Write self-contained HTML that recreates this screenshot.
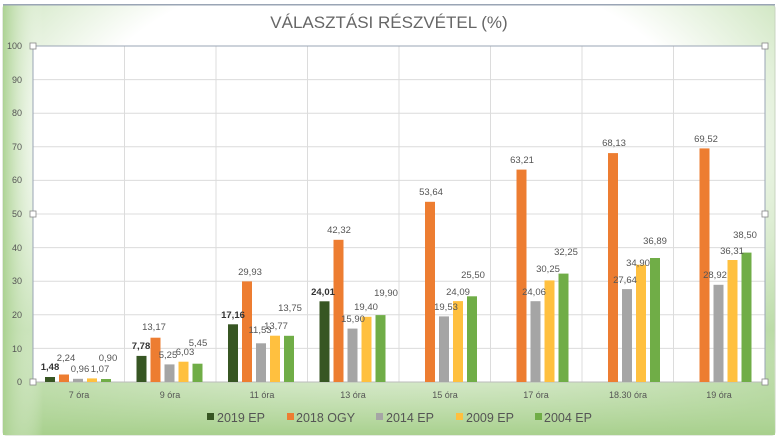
<!DOCTYPE html>
<html><head><meta charset="utf-8"><style>
html,body{margin:0;padding:0;background:#fff;}
svg{display:block;font-family:"Liberation Sans",sans-serif;}
</style></head><body>
<svg width="779" height="439" viewBox="0 0 779 439">
<defs>
<radialGradient id="bg" cx="0.5" cy="0.3" r="0.8">
<stop offset="0.5" stop-color="#ffffff"/>
<stop offset="1" stop-color="#9ccb7f"/>
</radialGradient>
<linearGradient id="bot" x1="0" y1="0" x2="0" y2="1">
<stop offset="0" stop-color="#ffffff" stop-opacity="0"/>
<stop offset="1" stop-color="#a8d08d" stop-opacity="0.95"/>
</linearGradient>
<linearGradient id="left" x1="0" y1="0" x2="1" y2="0">
<stop offset="0" stop-color="#a8d08d" stop-opacity="0.9"/>
<stop offset="1" stop-color="#ffffff" stop-opacity="0"/>
</linearGradient>
</defs>
<rect x="0" y="0" width="779" height="439" fill="#fff"/>
<rect x="3" y="5" width="772" height="430" rx="3" fill="url(#bg)" stroke="#c8d4c0"/>
<rect x="3" y="330" width="772" height="105" fill="url(#bot)"/>
<rect x="3" y="5" width="40" height="430" fill="url(#left)"/>
<rect x="3" y="4" width="772" height="1.5" fill="#9aa5b5"/>
<text x="389" y="28" font-size="17" fill="#666" text-anchor="middle">VÁLASZTÁSI RÉSZVÉTEL (%)</text>
<rect x="33" y="46" width="732" height="336" fill="#fff"/>
<g stroke="#dcdcdc" stroke-width="1">
<line x1="33" x2="765" y1="79.6" y2="79.6"/><line x1="33" x2="765" y1="113.2" y2="113.2"/>
<line x1="33" x2="765" y1="146.8" y2="146.8"/><line x1="33" x2="765" y1="180.4" y2="180.4"/>
<line x1="33" x2="765" y1="214" y2="214"/><line x1="33" x2="765" y1="247.6" y2="247.6"/>
<line x1="33" x2="765" y1="281.2" y2="281.2"/><line x1="33" x2="765" y1="314.8" y2="314.8"/>
<line x1="33" x2="765" y1="348.4" y2="348.4"/>
<line x1="124.5" x2="124.5" y1="46" y2="382"/><line x1="216" x2="216" y1="46" y2="382"/>
<line x1="307.5" x2="307.5" y1="46" y2="382"/><line x1="399" x2="399" y1="46" y2="382"/>
<line x1="490.5" x2="490.5" y1="46" y2="382"/><line x1="582" x2="582" y1="46" y2="382"/>
<line x1="673.5" x2="673.5" y1="46" y2="382"/>
</g>
<rect x="33" y="46" width="732" height="336" fill="none" stroke="#9aa5b5" stroke-width="1"/>
<line x1="33" x2="765" y1="382" y2="382" stroke="#bbb"/>
<g fill="#fff" stroke="#888" stroke-width="0.8">
<rect x="30" y="43" width="6" height="6"/><rect x="762" y="43" width="6" height="6"/>
<rect x="30" y="211" width="6" height="6"/><rect x="762" y="211" width="6" height="6"/>
<rect x="30" y="379" width="6" height="6"/><rect x="762" y="379" width="6" height="6"/>
</g>
<g font-size="9" fill="#555" text-anchor="end">
<text x="22" y="49">100</text><text x="22" y="83">90</text><text x="22" y="116">80</text>
<text x="22" y="150">70</text><text x="22" y="183">60</text><text x="22" y="217">50</text>
<text x="22" y="251">40</text><text x="22" y="284">30</text><text x="22" y="318">20</text>
<text x="22" y="352">10</text><text x="22" y="385">0</text>
</g>
<g font-size="9" fill="#555" text-anchor="middle">
<text x="79" y="398">7 óra</text><text x="170" y="398">9 óra</text><text x="262" y="398">11 óra</text>
<text x="353" y="398">13 óra</text><text x="445" y="398">15 óra</text><text x="536" y="398">17 óra</text>
<text x="628" y="398">18.30 óra</text><text x="719" y="398">19 óra</text>
</g>
<g>
<rect x="45" y="377" width="10" height="5" fill="#375623"/>
<rect x="59" y="374.5" width="10" height="7.5" fill="#ed7d31"/>
<rect x="73" y="378.8" width="10" height="3.2" fill="#a5a5a5"/>
<rect x="87" y="378.4" width="10" height="3.6" fill="#ffc03f"/>
<rect x="101" y="379" width="10" height="3" fill="#70ad47"/>
<rect x="136.5" y="355.9" width="10" height="26.1" fill="#375623"/>
<rect x="150.5" y="337.7" width="10" height="44.3" fill="#ed7d31"/>
<rect x="164.5" y="364.4" width="10" height="17.6" fill="#a5a5a5"/>
<rect x="178.5" y="361.7" width="10" height="20.3" fill="#ffc03f"/>
<rect x="192.5" y="363.7" width="10" height="18.3" fill="#70ad47"/>
<rect x="228" y="324.3" width="10" height="57.7" fill="#375623"/>
<rect x="242" y="281.4" width="10" height="100.6" fill="#ed7d31"/>
<rect x="256" y="343.3" width="10" height="38.7" fill="#a5a5a5"/>
<rect x="270" y="335.7" width="10" height="46.3" fill="#ffc03f"/>
<rect x="284" y="335.8" width="10" height="46.2" fill="#70ad47"/>
<rect x="319.5" y="301.3" width="10" height="80.7" fill="#375623"/>
<rect x="333.5" y="239.8" width="10" height="142.2" fill="#ed7d31"/>
<rect x="347.5" y="328.6" width="10" height="53.4" fill="#a5a5a5"/>
<rect x="361.5" y="316.8" width="10" height="65.2" fill="#ffc03f"/>
<rect x="375.5" y="315.1" width="10" height="66.9" fill="#70ad47"/>
<rect x="425" y="201.8" width="10" height="180.2" fill="#ed7d31"/>
<rect x="439" y="316.4" width="10" height="65.6" fill="#a5a5a5"/>
<rect x="453" y="301.1" width="10" height="80.9" fill="#ffc03f"/>
<rect x="467" y="296.3" width="10" height="85.7" fill="#70ad47"/>
<rect x="516.5" y="169.6" width="10" height="212.4" fill="#ed7d31"/>
<rect x="530.5" y="301.2" width="10" height="80.8" fill="#a5a5a5"/>
<rect x="544.5" y="280.4" width="10" height="101.6" fill="#ffc03f"/>
<rect x="558.5" y="273.6" width="10" height="108.4" fill="#70ad47"/>
<rect x="608" y="153.1" width="10" height="228.9" fill="#ed7d31"/>
<rect x="622" y="289.1" width="10" height="92.9" fill="#a5a5a5"/>
<rect x="636" y="264.7" width="10" height="117.3" fill="#ffc03f"/>
<rect x="650" y="258.0" width="10" height="124" fill="#70ad47"/>
<rect x="699.5" y="148.4" width="10" height="233.6" fill="#ed7d31"/>
<rect x="713.5" y="284.8" width="10" height="97.2" fill="#a5a5a5"/>
<rect x="727.5" y="260.0" width="10" height="122" fill="#ffc03f"/>
<rect x="741.5" y="252.6" width="10" height="129.4" fill="#70ad47"/>
</g>
<g font-size="9.5" fill="#555" text-anchor="middle">
<text x="50" y="370" font-weight="bold" fill="#333">1,48</text>
<text x="66" y="361">2,24</text>
<text x="80" y="372">0,96</text>
<text x="100" y="372">1,07</text>
<text x="108" y="361">0,90</text>
<text x="141" y="349" font-weight="bold" fill="#333">7,78</text>
<text x="154" y="330">13,17</text>
<text x="168" y="358">5,25</text>
<text x="185" y="355">6,03</text>
<text x="198" y="346">5,45</text>
<text x="233" y="318" font-weight="bold" fill="#333">17,16</text>
<text x="250" y="275">29,93</text>
<text x="260" y="333">11,53</text>
<text x="276" y="329">13,77</text>
<text x="290" y="311">13,75</text>
<text x="323" y="295" font-weight="bold" fill="#333">24,01</text>
<text x="339" y="233">42,32</text>
<text x="353" y="322">15,90</text>
<text x="366" y="310">19,40</text>
<text x="386" y="296">19,90</text>
<text x="431" y="195">53,64</text>
<text x="446" y="310">19,53</text>
<text x="458" y="295">24,09</text>
<text x="473" y="278">25,50</text>
<text x="522" y="163">63,21</text>
<text x="534" y="295">24,06</text>
<text x="548" y="272">30,25</text>
<text x="566" y="255">32,25</text>
<text x="614" y="146">68,13</text>
<text x="625" y="283">27,64</text>
<text x="638" y="266">34,90</text>
<text x="655" y="244">36,89</text>
<text x="706" y="142">69,52</text>
<text x="715" y="278">28,92</text>
<text x="732" y="254">36,31</text>
<text x="745" y="238">38,50</text>
</g>
<g font-size="12.5" fill="#555">
<rect x="207" y="413" width="7" height="7" fill="#375623"/><text x="217" y="422">2019 EP</text>
<rect x="287" y="413" width="7" height="7" fill="#ed7d31"/><text x="296" y="422">2018 OGY</text>
<rect x="376" y="413" width="7" height="7" fill="#a5a5a5"/><text x="386" y="422">2014 EP</text>
<rect x="456" y="413" width="7" height="7" fill="#ffc03f"/><text x="466" y="422">2009 EP</text>
<rect x="535" y="413" width="7" height="7" fill="#70ad47"/><text x="544" y="422">2004 EP</text>
</g>
</svg>
</body></html>
